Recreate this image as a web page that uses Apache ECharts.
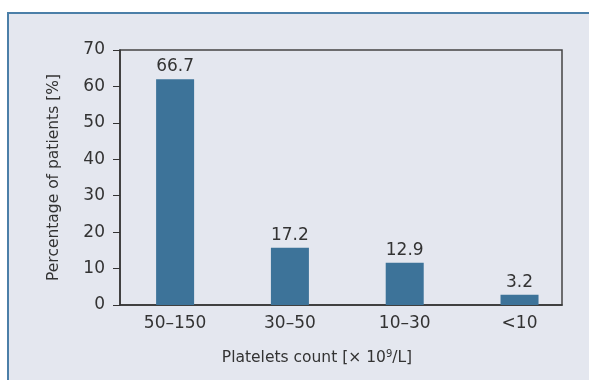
<!DOCTYPE html>
<html>
<head>
<meta charset="utf-8">
<script src="https://cdn.jsdelivr.net/npm/echarts@6/dist/echarts.min.js"></script>
<style>
  body { margin: 0; background: #fff; }
  #panel {
    position: absolute; left: 7px; top: 12px; width: 582px; height: 368px;
    background: #e4e7ef; border-top: 2px solid #4b7fa8; border-left: 2px solid #4b7fa8;
    box-sizing: border-box;
  }
  #chart { position: absolute; left: 0; top: 0; width: 589px; height: 380px; }
</style>
</head>
<body>
<div id="panel"></div>
<div id="chart"></div>
<script>
// 数据
var categories = ['50\u2013150', '30\u201350', '10\u201330', '<10'];
var barValues = [62, 15.7, 11.6, 2.8];       // bar heights as drawn
var labelTexts = ['66.7', '17.2', '12.9', '3.2']; // printed values
var yTicks = [0, 10, 20, 30, 40, 50, 60, 70];

var font = 'DejaVu Sans';
var chart = echarts.init(document.getElementById('chart'));

chart.setOption({
    backgroundColor: 'transparent',
    animation: false,
    grid: {
        left: 120, right: 27, top: 50, bottom: 75,
        show: true, borderColor: '#444', borderWidth: 1.5
    },
    xAxis: {
        type: 'value',
        min: -0.48,
        max: 3.37,
        splitLine: { show: false },
        axisLine: { show: true, lineStyle: { color: '#333', width: 1.5 } },
        axisTick: { show: false },
        axisLabel: {
            customValues: [0, 1, 2, 3],
            formatter: function (v) { return categories[Math.round(v)]; },
            color: '#333', fontFamily: font, fontSize: 17, margin: 10
        },
        name: 'Platelets count [\u00d7 10{sup|9}/L]',
        nameLocation: 'middle',
        nameGap: 44,
        nameTextStyle: {
            color: '#333', fontFamily: font, fontSize: 15.5,
            padding: [0, 48, 0, 0],
            rich: { sup: { fontSize: 10, verticalAlign: 'top', padding: [0, 0, 8, 0], fontFamily: font, color: '#333' } }
        }
    },
    yAxis: {
        type: 'value',
        min: yTicks[0],
        max: yTicks[yTicks.length - 1],
        interval: 10,
        splitLine: { show: false },
        axisLine: { show: true, onZero: false, lineStyle: { color: '#333', width: 1.5 } },
        axisTick: { show: true, length: 7, lineStyle: { color: '#333' } },
        axisLabel: { color: '#333', fontFamily: font, fontSize: 17, margin: 15 },
        name: 'Percentage of patients [%]',
        nameLocation: 'middle',
        nameGap: 58,
        nameTextStyle: { color: '#333', fontFamily: font, fontSize: 15.5 }
    },
    series: [{
        type: 'bar',
        barWidth: 38,
        data: barValues.map(function (v, i) { return [i, v]; }),
        itemStyle: { color: '#3d7399' },
        label: {
            show: true,
            position: 'top',
            distance: 4,
            color: '#333',
            fontFamily: font,
            fontSize: 17,
            formatter: function (p) { return labelTexts[p.dataIndex]; }
        }
    }]
});
</script>
</body>
</html>
